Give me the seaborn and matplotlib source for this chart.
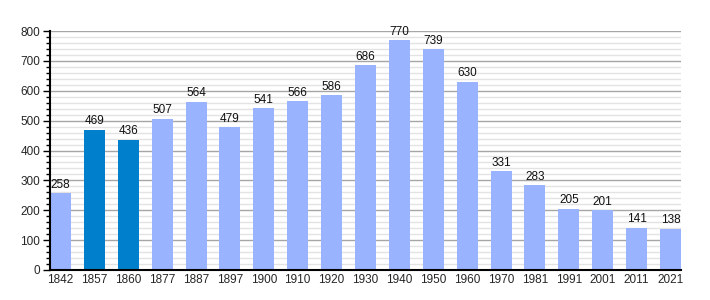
import matplotlib
matplotlib.use("Agg")
import matplotlib.pyplot as plt
import seaborn as sns
import pandas as pd
from matplotlib.ticker import MultipleLocator

years = ["1842", "1857", "1860", "1877", "1887", "1897", "1900", "1910", "1920",
         "1930", "1940", "1950", "1960", "1970", "1981", "1991", "2001", "2011", "2021"]
population = [258, 469, 436, 507, 564, 479, 541, 566, 586,
              686, 770, 739, 630, 331, 283, 205, 201, 141, 138]
highlight = ["1857", "1860"]

sns.set_theme(style="white")
plt.rcParams['font.family'] = ['Liberation Sans', 'DejaVu Sans']

df = pd.DataFrame({"year": years, "pop": population})
df["kind"] = ["dark" if y in highlight else "light" for y in years]

fig = plt.figure(figsize=(7.1, 3.0), dpi=100)
ax = fig.add_axes([50/710, 30/300, 631/710, 239/300])

sns.barplot(data=df, x="year", y="pop", hue="kind",
            palette={"light": "#99b3ff", "dark": "#0080cc"},
            dodge=False, width=0.62, legend=False, ax=ax, zorder=3,
            saturation=1, linewidth=0, edgecolor="none")

for i, v in enumerate(population):
    ax.text(i, v + 8, str(v), ha="center", va="bottom", fontsize=8.5, color="#111111")

ax.set_ylim(0, 800)
ax.set_xlim(-0.31, len(years) - 1 + 0.31)
ax.yaxis.set_major_locator(MultipleLocator(100))
ax.yaxis.set_minor_locator(MultipleLocator(20))
ax.grid(which="major", axis="y", color="#a6a6a6", linewidth=1, zorder=0)
ax.grid(which="minor", axis="y", color="#e3e3e3", linewidth=1, zorder=0)
ax.set_axisbelow(True)

for s in ["top", "right"]:
    ax.spines[s].set_visible(False)
for s in ["left", "bottom"]:
    ax.spines[s].set_color("black")
    ax.spines[s].set_linewidth(1.5)
    ax.spines[s].set_zorder(5)

ax.tick_params(axis="y", which="major", left=True, length=5, width=1, color="black",
               labelsize=8.5, pad=2)
ax.tick_params(axis="y", which="minor", left=True, length=3, width=1, color="black")
ax.tick_params(axis="x", bottom=False, length=0, labelsize=8.5, pad=3)
ax.set_xlabel("")
ax.set_ylabel("")

fig.savefig("out.png", dpi=100)
